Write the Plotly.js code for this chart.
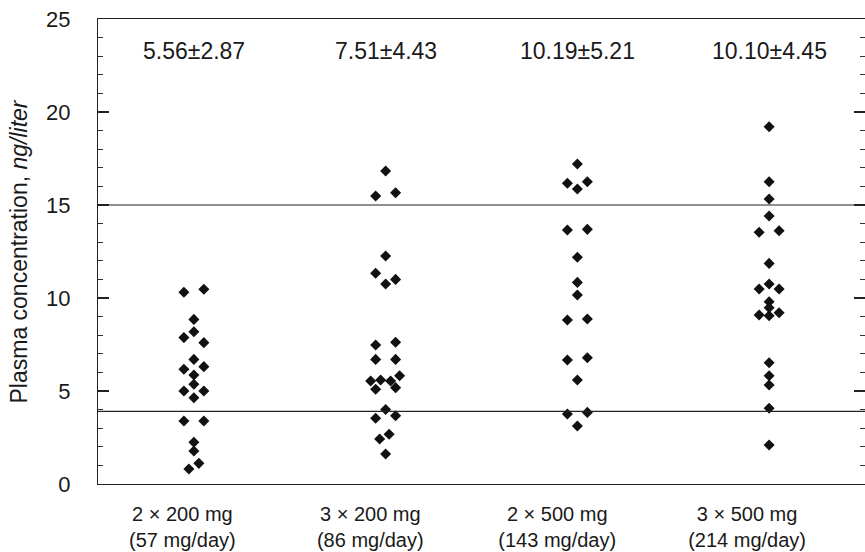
<!DOCTYPE html>
<html>
<head>
<meta charset="utf-8">
<script src="https://cdn.plot.ly/plotly-3.0.1.min.js"></script>
<style>html,body{margin:0;padding:0;background:#fff;}#chart{width:865px;height:552px;}</style>
</head>
<body>
<div id="chart"></div>
<script>
// Category labels
const categoryLabels = ["2 \u00d7 200 mg<br>(57 mg/day)", "3 \u00d7 200 mg<br>(86 mg/day)", "2 \u00d7 500 mg<br>(143 mg/day)", "3 \u00d7 500 mg<br>(214 mg/day)"];
const meanSd = ["5.56\u00b12.87", "7.51\u00b14.43", "10.19\u00b15.21", "10.10\u00b14.45"];
const yTitle = 'Plasma concentration, <i>ng/liter</i>';

// Plasma concentrations (ng/liter) per dose group, with dot-plot column slot
const g1Values = [10.31, 10.47, 8.85, 8.19, 7.87, 7.60, 6.70, 6.17, 6.31, 5.86, 5.36, 5.0, 5.0, 4.64, 3.39, 3.39, 2.24, 1.77, 1.11, 0.81];
const g1Slots  = [-1, 1, 0, 0, -1, 1, 0, -1, 1, 0, 0, -1, 1, 0, -1, 1, 0, 0, 0.5, -0.5];
const g2Values = [16.83, 15.48, 15.66, 12.26, 11.33, 10.75, 11.0, 7.47, 7.62, 6.70, 6.70, 5.54, 5.59, 5.54, 5.82, 5.09, 5.18, 4.01, 3.53, 3.67, 2.42, 2.67, 1.61];
const g2Slots  = [0, -1, 1, 0, -1, 0, 1, -1, 1, -1, 1, -1.5, -0.5, 0.5, 1.4, -1, 1, 0, -1, 1, -0.6, 0.35, 0];
const g3Values = [17.20, 16.17, 15.86, 16.25, 13.66, 13.69, 12.19, 10.84, 10.16, 8.82, 8.87, 6.67, 6.79, 5.59, 3.76, 3.85, 3.12];
const g3Slots  = [0, -1, 0, 1, -1, 1, 0, 0, 0, -1, 1, -1, 1, 0, -1, 1, 0];
const g4Values = [19.21, 16.25, 15.32, 14.41, 13.53, 13.62, 11.86, 10.48, 10.75, 10.48, 9.80, 9.48, 9.09, 9.05, 9.21, 6.52, 5.82, 5.32, 4.07, 2.10];
const g4Slots  = [0, 0, 0, 0, -1, 1, 0, -1, 0, 1, 0, 0, -1, 0, 1, 0, 0, 0, 0, 0];

// Therapeutic range reference lines
const refLines = [15, 3.9];

const groups = [[g1Values, g1Slots], [g2Values, g2Slots], [g3Values, g3Slots], [g4Values, g4Slots]];
const slotWidth = 0.052;
const labelShift = [-0.06, -0.08, -0.105, -0.115];

const xs = [], ys = [];
groups.forEach(([vals, slots], gi) => {
  vals.forEach((v, i) => { xs.push(gi + slots[i] * slotWidth); ys.push(v); });
});

const font = "Liberation Sans, Arial, Helvetica, sans-serif";

const traces = [
  {x: xs, y: ys, type: 'scatter', mode: 'markers',
   marker: {symbol: 'diamond', size: 8.5, color: '#111'}, hoverinfo: 'skip', showlegend: false},
  {x: [0], y: [0], type: 'scatter', mode: 'markers', yaxis: 'y2',
   marker: {opacity: 0}, hoverinfo: 'skip', showlegend: false}
];

const annotations = meanSd.map((t, i) => ({x: i, y: 23.3, xref: 'x', yref: 'y', text: t, showarrow: false,
                                           font: {size: 23, family: font, color: '#1a1a1a'}}));
annotations.push({x: 0, xref: 'paper', xshift: -80, xanchor: 'center', y: 0.5, yref: 'paper', yanchor: 'middle',
                  textangle: -90, text: yTitle, showarrow: false, font: {size: 23, family: font, color: '#1a1a1a'}});

const layout = {
  width: 865, height: 552,
  margin: {l: 98, r: 0, t: 19, b: 68},
  paper_bgcolor: '#fff', plot_bgcolor: '#fff',
  font: {family: font, color: '#1a1a1a', size: 20},
  xaxis: {
    range: [-0.5, 3.5], showgrid: false, zeroline: false,
    showline: true, mirror: true, linecolor: '#222', linewidth: 1.2,
    ticks: '', tickvals: categoryLabels.map((c, i) => i + labelShift[i]),
    ticktext: categoryLabels, tickfont: {size: 20, family: font}, ticklabelstandoff: 12
  },
  yaxis: {
    range: [0, 25], showgrid: false, zeroline: false,
    showline: true, linecolor: '#222', linewidth: 1.2,
    ticks: 'inside', ticklen: 11, tickwidth: 1.2, tickcolor: '#222',
    tickvals: [0, 5, 10, 15, 20, 25], ticklabelstandoff: 22,
    tickfont: {size: 22, family: font}
  },
  yaxis2: {
    overlaying: 'y', side: 'right', range: [0, 25], showgrid: false, zeroline: false,
    showline: false, showticklabels: false,
    ticks: 'inside', ticklen: 11, tickwidth: 1.2, tickcolor: '#222', tickvals: [0, 5, 10, 15, 20, 25],
    minor: {dtick: 1, ticks: 'inside', ticklen: 5, tickwidth: 1, tickcolor: '#333', showgrid: false}
  },
  shapes: refLines.map(v => ({type: 'line', xref: 'paper', x0: 0, x1: 1, yref: 'y', y0: v, y1: v,
                              line: {color: '#222', width: 1.2}})),
  annotations: annotations
};
layout.yaxis.minor = {dtick: 1, ticks: 'inside', ticklen: 5, tickwidth: 1, tickcolor: '#333', showgrid: false};

Plotly.newPlot('chart', traces, layout, {staticPlot: true, displayModeBar: false});
</script>
</body>
</html>
